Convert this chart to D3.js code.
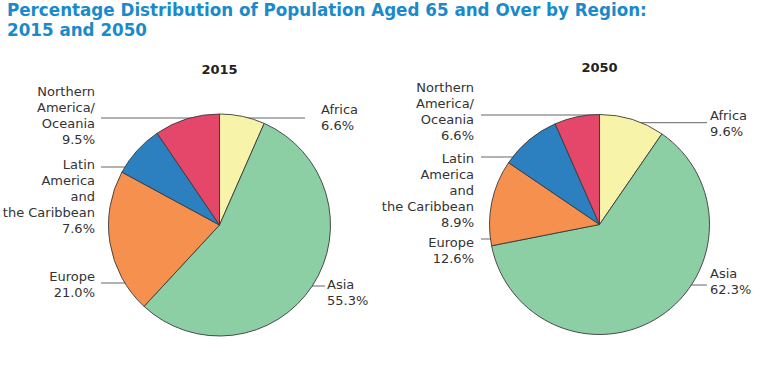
<!DOCTYPE html>
<html><head><meta charset="utf-8">
<script src="https://cdn.jsdelivr.net/npm/d3@7"></script>
<style>body{margin:0;background:#fff}svg{display:block}</style>
</head><body>
<script>
// ---- data ----
const regions = ["Africa", "Asia", "Europe", "Latin America and the Caribbean", "Northern America/Oceania"];
const regionLabelLines = [["Africa"], ["Asia"], ["Europe"], ["Latin", "America", "and", "the Caribbean"], ["Northern", "America/", "Oceania"]];
const years = ["2015", "2050"];
const values2015 = [6.6, 55.3, 21.0, 7.6, 9.5];
const values2050 = [9.6, 62.3, 12.6, 8.9, 6.6];
const titleLines = ["Percentage Distribution of Population Aged 65 and Over by Region:", "2015 and 2050"];

// ---- styling / layout ----
const colors = ["#f7f3a8", "#8dcfa5", "#f5904f", "#2c80c0", "#e5476a"];
const W = 768, H = 367;
const layouts = [
  { cx: 219.5, cy: 225, r: 111, yearY: 74,
    labels: [
      { side: "R", tx: 321, ty: 114, ly: 118, lx: 305 },
      { side: "R", tx: 327, ty: 289, ly: 286, lx: 325 },
      { side: "L", tx: 95, ty: 281, ly: 283, lx: 101 },
      { side: "L", tx: 95, ty: 169, ly: 167, lx: 101 },
      { side: "L", tx: 95, ty: 96, ly: 118, lx: 101 }
    ] },
  { cx: 599.5, cy: 224.5, r: 110, yearY: 72,
    labels: [
      { side: "R", tx: 710, ty: 119.5, ly: 122.7, lx: 707 },
      { side: "R", tx: 710, ty: 277.5, ly: 285, lx: 707 },
      { side: "L", tx: 474, ty: 246.5, ly: 239, lx: 481 },
      { side: "L", tx: 474, ty: 162.5, ly: 157, lx: 481 },
      { side: "L", tx: 474, ty: 91.5, ly: 115, lx: 481 }
    ] }
];

const svg = d3.select("body").append("svg").attr("width", W).attr("height", H);

// title
const title = svg.append("g");
titleLines.forEach((t, i) => {
  title.append("text").attr("x", 7).attr("y", 16 + i * 19.5)
    .attr("font-family", "DejaVu Sans").attr("font-weight", "bold")
    .attr("font-size", 16).attr("fill", "#1a8acb").text(t);
});
// fit first line width to reference (~640px)
const t0 = title.select("text").node();
const w0 = t0.getComputedTextLength();
const fs = 16 * 640 / w0;
title.selectAll("text").attr("font-size", Math.min(17, fs));

const allValues = [values2015, values2050];
const pie = d3.pie().sort(null).value(d => d);
const arc = d3.arc().innerRadius(0);

allValues.forEach((vals, k) => {
  const L = layouts[k];
  const g = svg.append("g");
  // year heading
  g.append("text").attr("x", L.cx).attr("y", L.yearY).attr("text-anchor", "middle")
    .attr("font-family", "DejaVu Sans").attr("font-weight", "bold").attr("font-size", 13)
    .attr("fill", "#222").text(years[k]);
  // leader lines (behind pie)
  L.labels.forEach(lb => {
    g.append("line").attr("x1", L.cx).attr("x2", lb.lx).attr("y1", lb.ly).attr("y2", lb.ly)
      .attr("stroke", "#666").attr("stroke-width", 1);
  });
  // pie
  const arcs = pie(vals);
  g.append("g").attr("transform", `translate(${L.cx},${L.cy})`)
    .selectAll("path").data(arcs).join("path")
    .attr("d", d => arc.outerRadius(L.r)(d))
    .attr("fill", (d, i) => colors[i])
    .attr("stroke", "#3a3a3a").attr("stroke-width", 0.9);
  // labels
  vals.forEach((v, i) => {
    const lb = L.labels[i];
    const lines = regionLabelLines[i].concat([v.toFixed(1) + "%"]);
    const txt = g.append("text").attr("font-family", "DejaVu Sans").attr("font-size", 13)
      .attr("fill", "#333").attr("text-anchor", lb.side === "L" ? "end" : "start");
    lines.forEach((s, j) => {
      txt.append("tspan").attr("x", lb.tx).attr("y", lb.ty + j * 16).text(s);
    });
  });
});
</script>
</body></html>
